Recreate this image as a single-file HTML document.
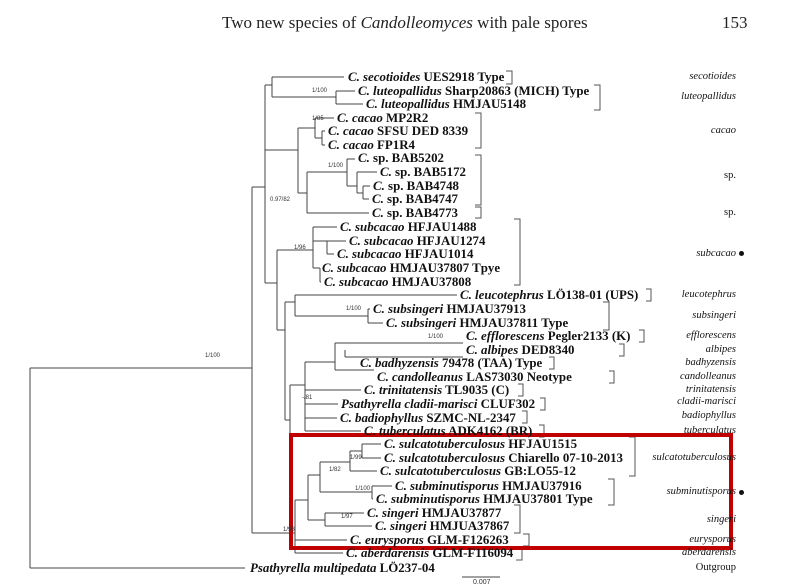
<!DOCTYPE html>
<html><head><meta charset="utf-8"><style>
body{margin:0;width:794px;height:587px;background:#fff;position:relative;overflow:hidden;font-family:"Liberation Serif",serif;}
.t{position:absolute;white-space:nowrap;font-weight:bold;font-size:12.9px;line-height:14px;color:#111;}
.t i{font-style:italic}
.r{position:absolute;white-space:nowrap;font-style:italic;font-size:10.5px;line-height:12px;color:#111;right:58px;text-align:right}
.s{position:absolute;font-family:"Liberation Sans",sans-serif;font-size:6px;color:#333;white-space:nowrap}
svg{position:absolute;left:0;top:0}
</style></head><body>
<div style="position:absolute;left:222px;top:13px;font-size:17px;color:#222">Two new species of <i>Candolleomyces</i> with pale spores</div>
<div style="position:absolute;left:722px;top:13px;font-size:17px;color:#222">153</div>
<svg width="794" height="587" stroke="#444" stroke-width="1" fill="none">
<path d="M30 368V568M30 368H252M30 568H245"/>
<path d="M252 187V533M252 187H265M265 85V283M265 85H272M272 77V97M272 77H344M272 97H336M336 91V104M336 91H355M336 104H363"/>
<path d="M265 150H298M298 128V193M298 128H315M315 118V138M315 118H334M315 138H322M322 131V145M322 131H325M322 145H325"/>
<path d="M298 193H307M307 172V213M307 172H347M347 159V186M347 159H355M347 186H357M357 172V193M357 172H377M357 193H363M363 186V199M363 186H370M363 199H369M307 213H369"/>
<path d="M265 283H277M277 250V330M277 250H313M313 227V268M313 227H337M313 241H327M327 241V254M327 241H346M327 254H334M313 268H320M320 268V282M320 268H320M320 282H321"/>
<path d="M277 330H285M285 302V420M285 302H295M295 295V316M295 295H457M295 316H368M368 309V323M368 309H370M368 323H383"/>
<path d="M285 420H290M290 385V470M290 385H305M305 362V431M305 362H335M335 343V370M335 343H345M345 350V357M345 343H463M345 357H463M335 370H374M305 390H361M305 404H338M305 418H337M305 431H361"/>
<path d="M252 533H295M295 500V553M295 553H343M295 500H308M308 475V520M308 475H320M320 462V492M320 462H350M350 451V471M350 451H362M362 444V458M362 444H381M362 458H381M350 471H377M320 492H372M372 486V499M372 486H392M372 499H373M308 520H325M325 513V526M325 513H364M325 526H372M295 540H347"/>
<path d="M462 577H500"/>
<g stroke="#555">
<path d="M506 71H512V84H506M594 85H600V110H594M475 113H481V148H475M475 155H481V205H475M475 207H481V218H475M514 219H520V285H514M646 289H651V301H646M603 302H609V330H603M639 330H644V342H639M619 344H624V356H619M549 357H554V369H549M609 371H614V383H609M518 384H523V396H518M540 398H545V410H540M522 411H527V423H522M539 425H544V437H539M629 437H635V476H629M608 479H614V505H608M514 505H520V533H514M523 534H529V546H523M516 547H522V560H516"/>
</g>
<rect x="291" y="435" width="440" height="113" stroke="#c00000" stroke-width="4"/>
</svg>
<div class="t" style="left:348px;top:70px"><i>C. secotioides</i> UES2918 Type</div>
<div class="t" style="left:358px;top:84px"><i>C. luteopallidus</i> Sharp20863 (MICH) Type</div>
<div class="t" style="left:366px;top:97px"><i>C. luteopallidus</i> HMJAU5148</div>
<div class="t" style="left:337px;top:111px"><i>C. cacao</i> MP2R2</div>
<div class="t" style="left:328px;top:124px"><i>C. cacao</i> SFSU DED 8339</div>
<div class="t" style="left:328px;top:138px"><i>C. cacao</i> FP1R4</div>
<div class="t" style="left:358px;top:151px"><i>C.</i> sp. BAB5202</div>
<div class="t" style="left:380px;top:165px"><i>C.</i> sp. BAB5172</div>
<div class="t" style="left:373px;top:179px"><i>C.</i> sp. BAB4748</div>
<div class="t" style="left:372px;top:192px"><i>C.</i> sp. BAB4747</div>
<div class="t" style="left:372px;top:206px"><i>C.</i> sp. BAB4773</div>
<div class="t" style="left:340px;top:220px"><i>C. subcacao</i> HFJAU1488</div>
<div class="t" style="left:349px;top:234px"><i>C. subcacao</i> HFJAU1274</div>
<div class="t" style="left:337px;top:247px"><i>C. subcacao</i> HFJAU1014</div>
<div class="t" style="left:322px;top:261px"><i>C. subcacao</i> HMJAU37807 Tpye</div>
<div class="t" style="left:324px;top:275px"><i>C. subcacao</i> HMJAU37808</div>
<div class="t" style="left:460px;top:288px"><i>C. leucotephrus</i> LÖ138-01 (UPS)</div>
<div class="t" style="left:373px;top:302px"><i>C. subsingeri</i> HMJAU37913</div>
<div class="t" style="left:386px;top:316px"><i>C. subsingeri</i> HMJAU37811 Type</div>
<div class="t" style="left:466px;top:329px"><i>C. efflorescens</i> Pegler2133 (K)</div>
<div class="t" style="left:466px;top:343px"><i>C. albipes</i> DED8340</div>
<div class="t" style="left:360px;top:356px"><i>C. badhyzensis</i> 79478 (TAA) Type</div>
<div class="t" style="left:377px;top:370px"><i>C. candolleanus</i> LAS73030 Neotype</div>
<div class="t" style="left:364px;top:383px"><i>C. trinitatensis</i> TL9035 (C)</div>
<div class="t" style="left:341px;top:397px"><i>Psathyrella cladii-marisci</i> CLUF302</div>
<div class="t" style="left:340px;top:411px"><i>C. badiophyllus</i> SZMC-NL-2347</div>
<div class="t" style="left:364px;top:424px"><i>C. tuberculatus</i> ADK4162 (BR)</div>
<div class="t" style="left:384px;top:437px"><i>C. sulcatotuberculosus</i> HFJAU1515</div>
<div class="t" style="left:384px;top:451px"><i>C. sulcatotuberculosus</i> Chiarello 07-10-2013</div>
<div class="t" style="left:380px;top:464px"><i>C. sulcatotuberculosus</i> GB:LO55-12</div>
<div class="t" style="left:395px;top:479px"><i>C. subminutisporus</i> HMJAU37916</div>
<div class="t" style="left:376px;top:492px"><i>C. subminutisporus</i> HMJAU37801 Type</div>
<div class="t" style="left:367px;top:506px"><i>C. singeri</i> HMJAU37877</div>
<div class="t" style="left:375px;top:519px"><i>C. singeri</i> HMJUA37867</div>
<div class="t" style="left:350px;top:533px"><i>C. eurysporus</i> GLM-F126263</div>
<div class="t" style="left:346px;top:546px"><i>C. aberdarensis</i> GLM-F116094</div>
<div class="t" style="left:250px;top:561px"><i>Psathyrella multipedata</i> LÖ237-04</div>
<div class="s" style="left:473px;top:579px;font-size:7px">0.007</div>
<div class="s" style="left:312px;top:88px">1/100</div>
<div class="s" style="left:312px;top:116px">1/85</div>
<div class="s" style="left:328px;top:163px">1/100</div>
<div class="s" style="left:270px;top:197px">0.97/82</div>
<div class="s" style="left:294px;top:245px">1/96</div>
<div class="s" style="left:346px;top:306px">1/100</div>
<div class="s" style="left:428px;top:334px">1/100</div>
<div class="s" style="left:302px;top:395px">-/81</div>
<div class="s" style="left:205px;top:353px">1/100</div>
<div class="s" style="left:350px;top:455px">1/99</div>
<div class="s" style="left:329px;top:467px">1/82</div>
<div class="s" style="left:355px;top:486px">1/100</div>
<div class="s" style="left:341px;top:514px">1/97</div>
<div class="s" style="left:283px;top:527px">1/98</div>
<div class="r" style="top:71px">secotioides</div>
<div class="r" style="top:91px">luteopallidus</div>
<div class="r" style="top:125px">cacao</div>
<div class="r" style="top:170px;font-style:normal">sp.</div>
<div class="r" style="top:207px;font-style:normal">sp.</div>
<div class="r" style="top:248px">subcacao</div>
<div style="position:absolute;left:739px;top:251px;width:5px;height:5px;border-radius:50%;background:#111"></div>
<div class="r" style="top:289px">leucotephrus</div>
<div class="r" style="top:310px">subsingeri</div>
<div class="r" style="top:330px">efflorescens</div>
<div class="r" style="top:344px">albipes</div>
<div class="r" style="top:357px">badhyzensis</div>
<div class="r" style="top:371px">candolleanus</div>
<div class="r" style="top:384px">trinitatensis</div>
<div class="r" style="top:396px">cladii-marisci</div>
<div class="r" style="top:410px">badiophyllus</div>
<div class="r" style="top:425px">tuberculatus</div>
<div class="r" style="top:452px">sulcatotuberculosus</div>
<div class="r" style="top:486px">subminutisporus</div>
<div style="position:absolute;left:739px;top:490px;width:5px;height:5px;border-radius:50%;background:#111"></div>
<div class="r" style="top:514px">singeri</div>
<div class="r" style="top:534px">eurysporus</div>
<div class="r" style="top:547px">aberdarensis</div>
<div class="r" style="top:562px;font-style:normal">Outgroup</div>
</body></html>
